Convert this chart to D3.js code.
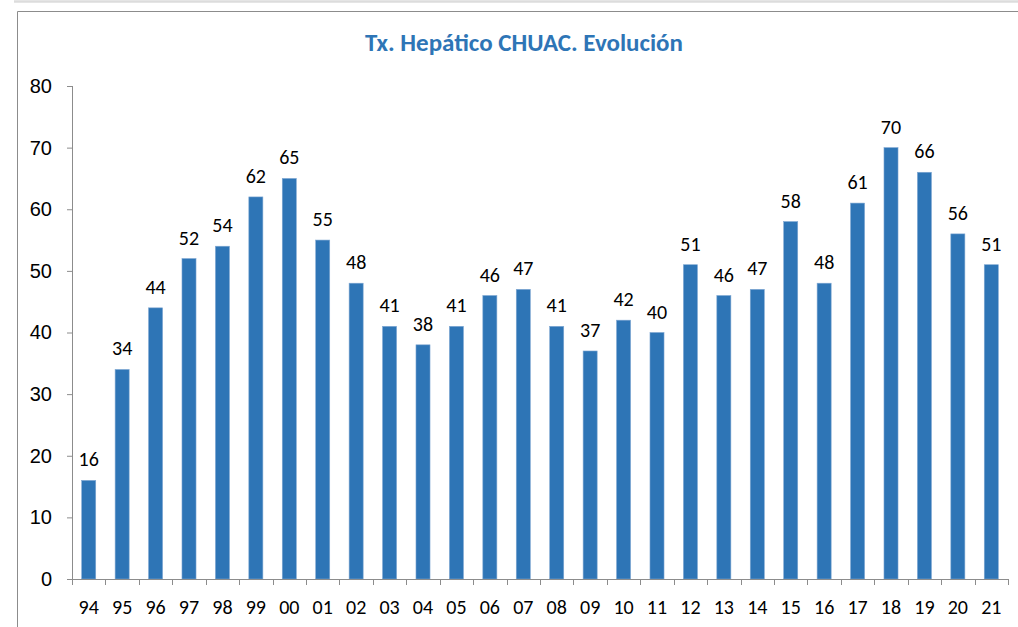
<!DOCTYPE html>
<html>
<head>
<meta charset="utf-8">
<script src="https://cdn.jsdelivr.net/npm/d3@7"></script>
<style>
  body { margin: 0; background: #fff; }
  svg { display: block; font-family: Carlito, Lato, "Open Sans", sans-serif; }
  .axis path, .axis line { stroke: #8c8c8c; }
  .axis text { fill: #000; }
</style>
</head>
<body>
<div id="chart"></div>
<script>
const years = ["94","95","96","97","98","99","00","01","02","03","04","05","06","07","08","09","10","11","12","13","14","15","16","17","18","19","20","21"];
const transplants = [16,34,44,52,54,62,65,55,48,41,38,41,46,47,41,37,42,40,51,46,47,58,48,61,70,66,56,51];
const yTicks = [0,10,20,30,40,50,60,70,80];
const chartTitle = "Tx. Hepático CHUAC. Evolución";

const W = 1018, H = 627;
const margin = { top: 86, right: 10, bottom: 48, left: 72 };
const width = 1008 - margin.left;
const height = 579 - margin.top;

const svg = d3.select("#chart").append("svg").attr("width", W).attr("height", H);

// outer frame lines
svg.append("line").attr("x1", 14).attr("x2", W).attr("y1", 1.5).attr("y2", 1.5)
  .attr("stroke", "#dcdcdc").attr("stroke-width", 2.5);
svg.append("line").attr("x1", 17.5).attr("x2", W).attr("y1", 11.5).attr("y2", 11.5)
  .attr("stroke", "#8c8c8c").attr("stroke-width", 1);
svg.append("line").attr("x1", 17.5).attr("x2", 17.5).attr("y1", 11.5).attr("y2", H)
  .attr("stroke", "#8c8c8c").attr("stroke-width", 1);

svg.append("text")
  .attr("x", 524).attr("y", 51)
  .attr("text-anchor", "middle")
  .attr("font-size", 25).attr("font-weight", "bold")
  .attr("fill", "#2E75B6")
  .text(chartTitle);

const g = svg.append("g").attr("transform", `translate(${margin.left},${margin.top})`);

const x = d3.scaleBand().domain(years).range([0, width]).paddingInner(0.58).paddingOuter(0.29);
const y = d3.scaleLinear().domain([0, 80]).range([height, 0]);

const yAxis = g.append("g").attr("class", "axis")
  .call(d3.axisLeft(y).tickValues(yTicks).tickSize(5).tickPadding(15).tickSizeOuter(0));
yAxis.selectAll("text").attr("font-size", 20);
yAxis.select(".domain").attr("d", `M0.5,0V${height}`);

g.selectAll(".bar").data(transplants).enter()
  .append("rect")
  .attr("class", "bar")
  .attr("x", (d, i) => x(years[i]))
  .attr("y", d => y(d))
  .attr("width", x.bandwidth())
  .attr("height", d => height - y(d))
  .attr("fill", "#2E75B6")
  .attr("stroke", "#7fa7d2").attr("stroke-width", 0.6);

g.selectAll(".val").data(transplants).enter()
  .append("text")
  .attr("class", "val")
  .attr("x", (d, i) => x(years[i]) + x.bandwidth() / 2)
  .attr("y", d => y(d) - 14)
  .attr("text-anchor", "middle")
  .attr("font-size", 20)
  .text(d => d);

// x axis with ticks at category boundaries
const xAxis = g.append("g").attr("class", "axis").attr("transform", `translate(0,${height})`);
xAxis.append("line").attr("x1", 0).attr("x2", width).attr("y1", 0.5).attr("y2", 0.5);
const step = width / years.length;
xAxis.selectAll(".tk").data(d3.range(years.length + 1)).enter()
  .append("line")
  .attr("x1", i => Math.round(i * step) + 0.5).attr("x2", i => Math.round(i * step) + 0.5)
  .attr("y1", 0).attr("y2", 6);
xAxis.selectAll(".lbl").data(years).enter()
  .append("text")
  .attr("x", d => x(d) + x.bandwidth() / 2)
  .attr("y", 35)
  .attr("text-anchor", "middle")
  .attr("font-size", 20)
  .text(d => d);
</script>
</body>
</html>
